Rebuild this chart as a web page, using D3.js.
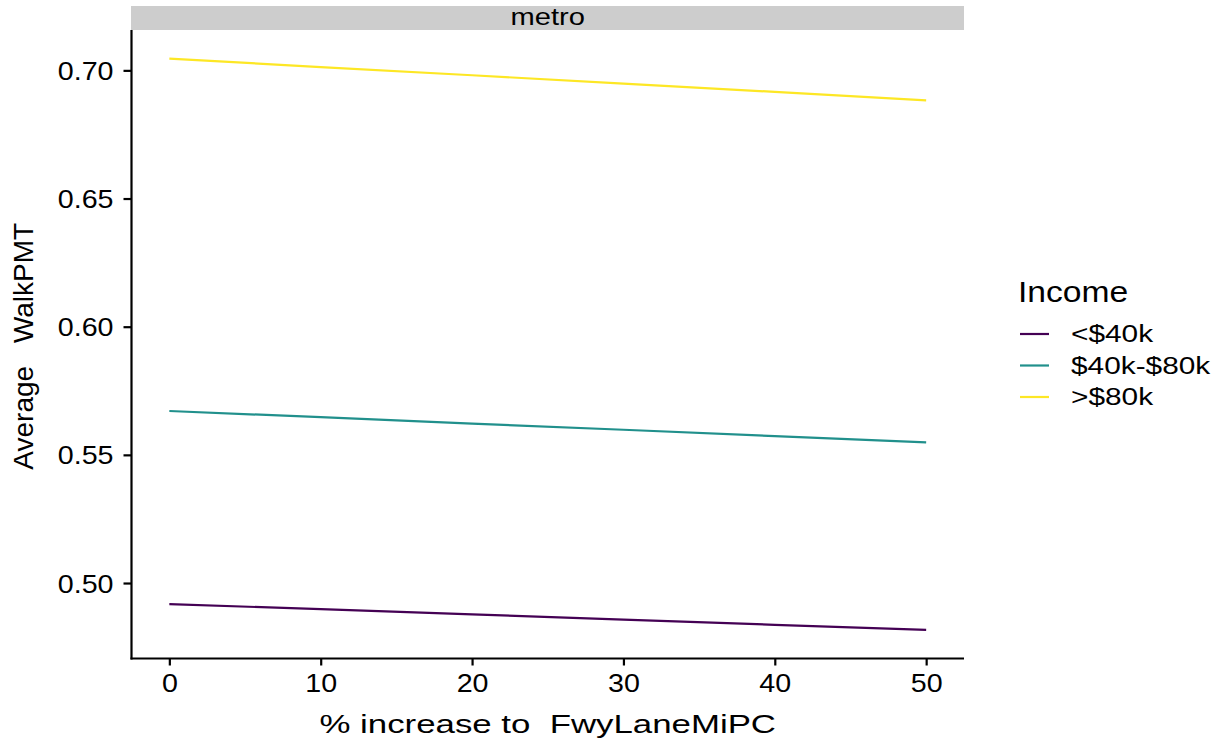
<!DOCTYPE html>
<html>
<head>
<meta charset="utf-8">
<script src="https://cdn.jsdelivr.net/npm/d3@7"></script>
<style>
  body { margin: 0; background: #fff; }
  text { font-family: "Liberation Sans", Arial, Helvetica, sans-serif; fill: #000; white-space: pre; }
</style>
</head>
<body>
<svg id="chart" width="1225" height="744"></svg>
<script>
// Average walking person-miles per capita by income group, metro facet
const pctIncrease = [0, 10, 20, 30, 40, 50];
const incomeGroups = ["<$40k", "$40k-$80k", ">$80k"];
const walkLow  = [0.4918, 0.4898, 0.4878, 0.4857, 0.4837, 0.4817];
const walkMid  = [0.5671, 0.5647, 0.5622, 0.5598, 0.5573, 0.5549];
const walkHigh = [0.7046, 0.7013, 0.6981, 0.6948, 0.6916, 0.6883];
const xTickValues = [0, 10, 20, 30, 40, 50];
const yTickValues = [0.50, 0.55, 0.60, 0.65, 0.70];
const groupColors = ["#440154", "#21908C", "#FDE725"];
const facetLabel = "metro";

const series = [walkLow, walkMid, walkHigh].map((vals, i) => ({
  name: incomeGroups[i],
  color: groupColors[i],
  points: pctIncrease.map((x, j) => ({ x, y: vals[j] }))
}));

const svg = d3.select("#chart");
const panel = { left: 131.5, right: 964, top: 30, bottom: 658.5 };

// 5% expansion on each side, as in the default continuous scale padding
function expanded(values) {
  const [lo, hi] = d3.extent(values);
  const pad = (hi - lo) * 0.05;
  return [lo - pad, hi + pad];
}

const x = d3.scaleLinear()
  .domain(expanded(pctIncrease))
  .range([panel.left, panel.right]);
const y = d3.scaleLinear()
  .domain(expanded([...walkLow, ...walkMid, ...walkHigh]))
  .range([panel.bottom, panel.top]);

// facet strip
svg.append("rect")
  .attr("x", panel.left - 0.5).attr("y", 6)
  .attr("width", panel.right - panel.left + 0.5).attr("height", panel.top - 6)
  .attr("fill", "#cdcdcd");
svg.append("text")
  .attr("transform", `translate(${(panel.left + panel.right) / 2},25) scale(1.24,1)`)
  .attr("text-anchor", "middle")
  .style("font-size", "23.5px")
  .text(facetLabel);

// lines
const line = d3.line().x(d => x(d.x)).y(d => y(d.y));
svg.append("g").selectAll("path")
  .data(series)
  .join("path")
  .attr("d", d => line(d.points))
  .attr("fill", "none")
  .attr("stroke", d => d.color)
  .attr("stroke-width", 2.2);

// axes
const yAxis = svg.append("g")
  .attr("transform", `translate(${panel.left},0)`)
  .call(d3.axisLeft(y).tickValues(yTickValues).tickFormat(d3.format(".2f")).tickSize(8).tickSizeOuter(0));
const xAxis = svg.append("g")
  .attr("transform", `translate(0,${panel.bottom})`)
  .call(d3.axisBottom(x).tickValues(xTickValues).tickFormat(d3.format("d")).tickSize(7).tickSizeOuter(0));

[yAxis, xAxis].forEach(ax => {
  ax.select(".domain").attr("stroke", "#000").attr("stroke-width", 2.2);
  ax.selectAll(".tick line").attr("stroke", "#000").attr("stroke-width", 2.2);
  ax.attr("font-family", null).attr("font-size", null);
});
yAxis.select(".domain").attr("d", `M0,${panel.top}V${panel.bottom + 1}`);
xAxis.select(".domain").attr("d", `M${panel.left - 1},0H${panel.right}`);

yAxis.selectAll(".tick text")
  .attr("x", null).attr("dy", null)
  .attr("transform", "translate(-18,9) scale(1.12,1)")
  .attr("text-anchor", "end")
  .style("font-size", "25.6px");
xAxis.selectAll(".tick text")
  .attr("y", null).attr("dy", null)
  .attr("transform", "translate(0,33.5) scale(1.12,1)")
  .attr("text-anchor", "middle")
  .style("font-size", "25.6px");

// axis titles
svg.append("text")
  .attr("transform", `translate(${(panel.left + panel.right) / 2},733) scale(1.36,1)`)
  .attr("text-anchor", "middle")
  .style("font-size", "25.6px")
  .text("% increase to  FwyLaneMiPC");
svg.append("text")
  .attr("transform", `translate(33,${(panel.top + panel.bottom) / 2 + 2}) rotate(-90)`)
  .attr("text-anchor", "middle")
  .style("font-size", "28px")
  .style("word-spacing", "15px")
  .text("Average WalkPMT");

// legend
const legend = svg.append("g");
legend.append("text")
  .attr("transform", "translate(1018,302) scale(1.16,1)")
  .style("font-size", "29px")
  .text("Income");
const rowY = d3.scalePoint().domain(incomeGroups).range([334, 397]);
const rows = legend.selectAll("g.row")
  .data(series)
  .join("g")
  .attr("class", "row")
  .attr("transform", d => `translate(0,${rowY(d.name)})`);
rows.append("line")
  .attr("x1", 1020).attr("x2", 1049)
  .attr("stroke", d => d.color)
  .attr("stroke-width", 2.2);
rows.append("text")
  .attr("transform", "translate(1071,8) scale(1.28,1)")
  .style("font-size", "23.3px")
  .text(d => d.name);
</script>
</body>
</html>
